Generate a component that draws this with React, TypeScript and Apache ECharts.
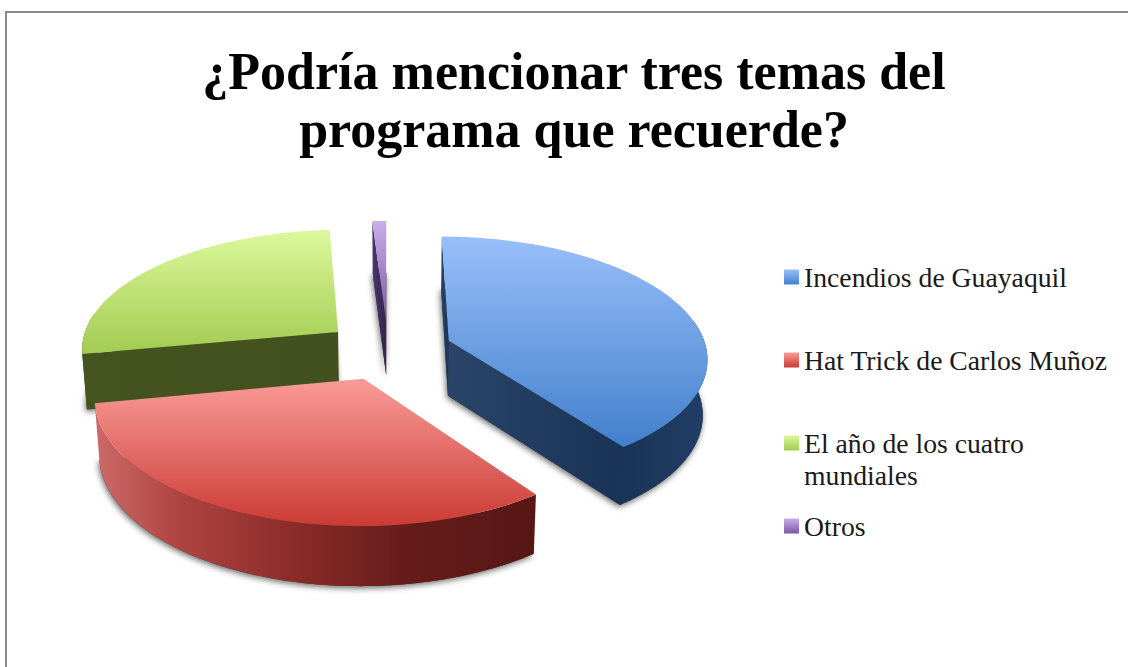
import React, { useEffect, useRef } from "react";
import * as echarts from "echarts";

const titleText = "¿Podría mencionar tres temas del\nprograma que recuerde?";
const categories = ["Incendios de Guayaquil", "Hat Trick de Carlos Muñoz", "El año de los cuatro mundiales", "Otros"];
const shares = [40, 32, 27, 1];

// Layout and styling (not data)
const FONT = '"Liberation Serif", serif';
const CX = 388, CY = 350, RX = 258, RY = 120, PERSP = 0.13, EXPLODE = 0.25;
const LAYER = [3, 4, 1, 2];
const TOP_STOPS = [
  ["#98bffa", "#4280cc"],
  ["#fa9b99", "#cb3b33"],
  ["#dcf99d", "#a2cb50"],
  ["#c9aee8", "#7d57a6"],
];
const RIM_STOPS: [number, string][][] = [
  [[0, "#1a3457"], [1, "#213e66"]],
  [[0, "#cc6a67"], [0.2, "#ad4341"], [0.45, "#8b2c2a"], [0.7, "#661c1a"], [1, "#561714"]],
  [[0, "#44531f"], [1, "#44531f"]],
  [[0, "#3b2a55"], [1, "#3b2a55"]],
];
const CUT_STOPS: [number, string][][] = [
  [[0, "#2a4569"], [1, "#193356"]],
  [[0, "#6b1f1d"], [1, "#561714"]],
  [[0, "#45531f"], [1, "#42511e"]],
  [[0, "#4b3570"], [1, "#33244d"]],
];
const LEGEND_TOPS = [261, 344, 395, 510];

function project(u: number, v: number, down: boolean): number[] {
  const s = 1 / (1 - PERSP * v);
  let x = CX + RX * u * s;
  let y = CY + RY * v * s;
  if (down) {
    y += 55 + 0.027 * (y - 340);
    x -= 0.015 * (x - 395);
  }
  return [x, y];
}

function hGrad(stops: [number, string][]) {
  return new echarts.graphic.LinearGradient(0, 0, 1, 0, stops.map(([offset, color]) => ({ offset, color })));
}
function vGrad(a: string, b: string) {
  return new echarts.graphic.LinearGradient(0, 0, 0, 1, [
    { offset: 0, color: a },
    { offset: 1, color: b },
  ]);
}

function sliceGroup(index: number, value: number, startDeg: number) {
  const total = shares.reduce((a, b) => a + b, 0);
  const sweep = (value / total) * 360;
  const endDeg = startDeg + sweep;
  const mid = ((startDeg + sweep / 2) * Math.PI) / 180;
  const u0 = Math.sin(mid) * EXPLODE;
  const v0 = -Math.cos(mid) * EXPLODE;
  const arc: number[][] = [];
  const front: number[][] = [];
  const steps = Math.max(4, Math.round(sweep));
  for (let i = 0; i <= steps; i++) {
    const deg = startDeg + (sweep * i) / steps;
    const a = (deg * Math.PI) / 180;
    const p = [u0 + Math.sin(a), v0 - Math.cos(a)];
    arc.push(p);
    if (deg >= 80 && deg <= 280) front.push(p);
  }
  const topArc = arc.map(([u, v]) => project(u, v, false));
  const lowArc = arc.map(([u, v]) => project(u, v, true));
  const apexT = project(u0, v0, false);
  const apexB = project(u0, v0, true);
  const poly = (points: number[][], style: any) => ({ type: "polygon", shape: { points }, style, silent: true });
  const last = topArc.length - 1;
  const children: any[] = [
    poly([apexB, ...lowArc], {
      fill: "#333",
      shadowBlur: 6,
      shadowColor: "rgba(0,0,0,0.6)",
      shadowOffsetX: -1,
      shadowOffsetY: 2,
    }),
  ];
  // Only the cut faces that turn towards the viewer are drawn.
  if (Math.sin((startDeg * Math.PI) / 180) < 0.001) {
    children.push(poly([apexT, topArc[0], lowArc[0], apexB], { fill: hGrad(CUT_STOPS[index]) }));
  }
  if (Math.sin((endDeg * Math.PI) / 180) > 0.01) {
    children.push(poly([apexT, topArc[last], lowArc[last], apexB], { fill: hGrad(CUT_STOPS[index]) }));
  }
  if (front.length > 1) {
    const frontTop = front.map(([u, v]) => project(u, v, false));
    const frontLow = front.map(([u, v]) => project(u, v, true));
    children.push(poly([...frontTop, ...frontLow.reverse()], { fill: hGrad(RIM_STOPS[index]) }));
  }
  children.push(poly([apexT, ...topArc], { fill: vGrad(TOP_STOPS[index][0], TOP_STOPS[index][1]) }));
  return { type: "group", children };
}

export default function App() {
  const ref = useRef<HTMLDivElement>(null);
  useEffect(() => {
    document.body.style.margin = "0";
    const chart = echarts.init(ref.current!, undefined, { renderer: "svg" });
    let cumulative = 0;
    const starts = shares.map((v) => {
      const s = (cumulative / shares.reduce((a, b) => a + b, 0)) * 360;
      cumulative += v;
      return s;
    });
    chart.setOption({
      animation: false,
      backgroundColor: "#ffffff",
      title: {
        text: titleText,
        left: 569,
        top: 37,
        textAlign: "center",
        textStyle: { fontFamily: FONT, fontWeight: "bold", fontSize: 52, lineHeight: 58, color: "#000" },
      },
      legend: categories.map((name, i) => ({
        data: [{ name, icon: "rect", itemStyle: { color: vGrad(TOP_STOPS[i][0], TOP_STOPS[i][1]), borderWidth: 0 } }],
        left: 784,
        top: LEGEND_TOPS[i],
        padding: 0,
        itemWidth: 15,
        itemHeight: 15,
        selectedMode: false,
        formatter: i === 2 ? "\nEl año de los cuatro\nmundiales" : "{name}",
        textStyle: { fontFamily: FONT, fontSize: 27.7, lineHeight: 32, color: "#1a1a1a" },
      })),
      graphic: [
        { type: "line", shape: { x1: 5, y1: 12, x2: 1128, y2: 12 }, style: { stroke: "#8a8a8a", lineWidth: 2 }, silent: true },
        { type: "line", shape: { x1: 6, y1: 11, x2: 6, y2: 667 }, style: { stroke: "#8a8a8a", lineWidth: 2 }, silent: true },
      ],
      series: categories.map((name, i) => ({
        type: "custom",
        name,
        coordinateSystem: "none",
        z: LAYER[i],
        silent: true,
        itemStyle: { color: TOP_STOPS[i][1] },
        data: [[shares[i]]],
        renderItem: (_p: any, api: any) => sliceGroup(i, api.value(0), starts[i]),
      })),
    });
    return () => chart.dispose();
  }, []);
  return <div ref={ref} style={{ width: 1128, height: 667 }} />;
}
